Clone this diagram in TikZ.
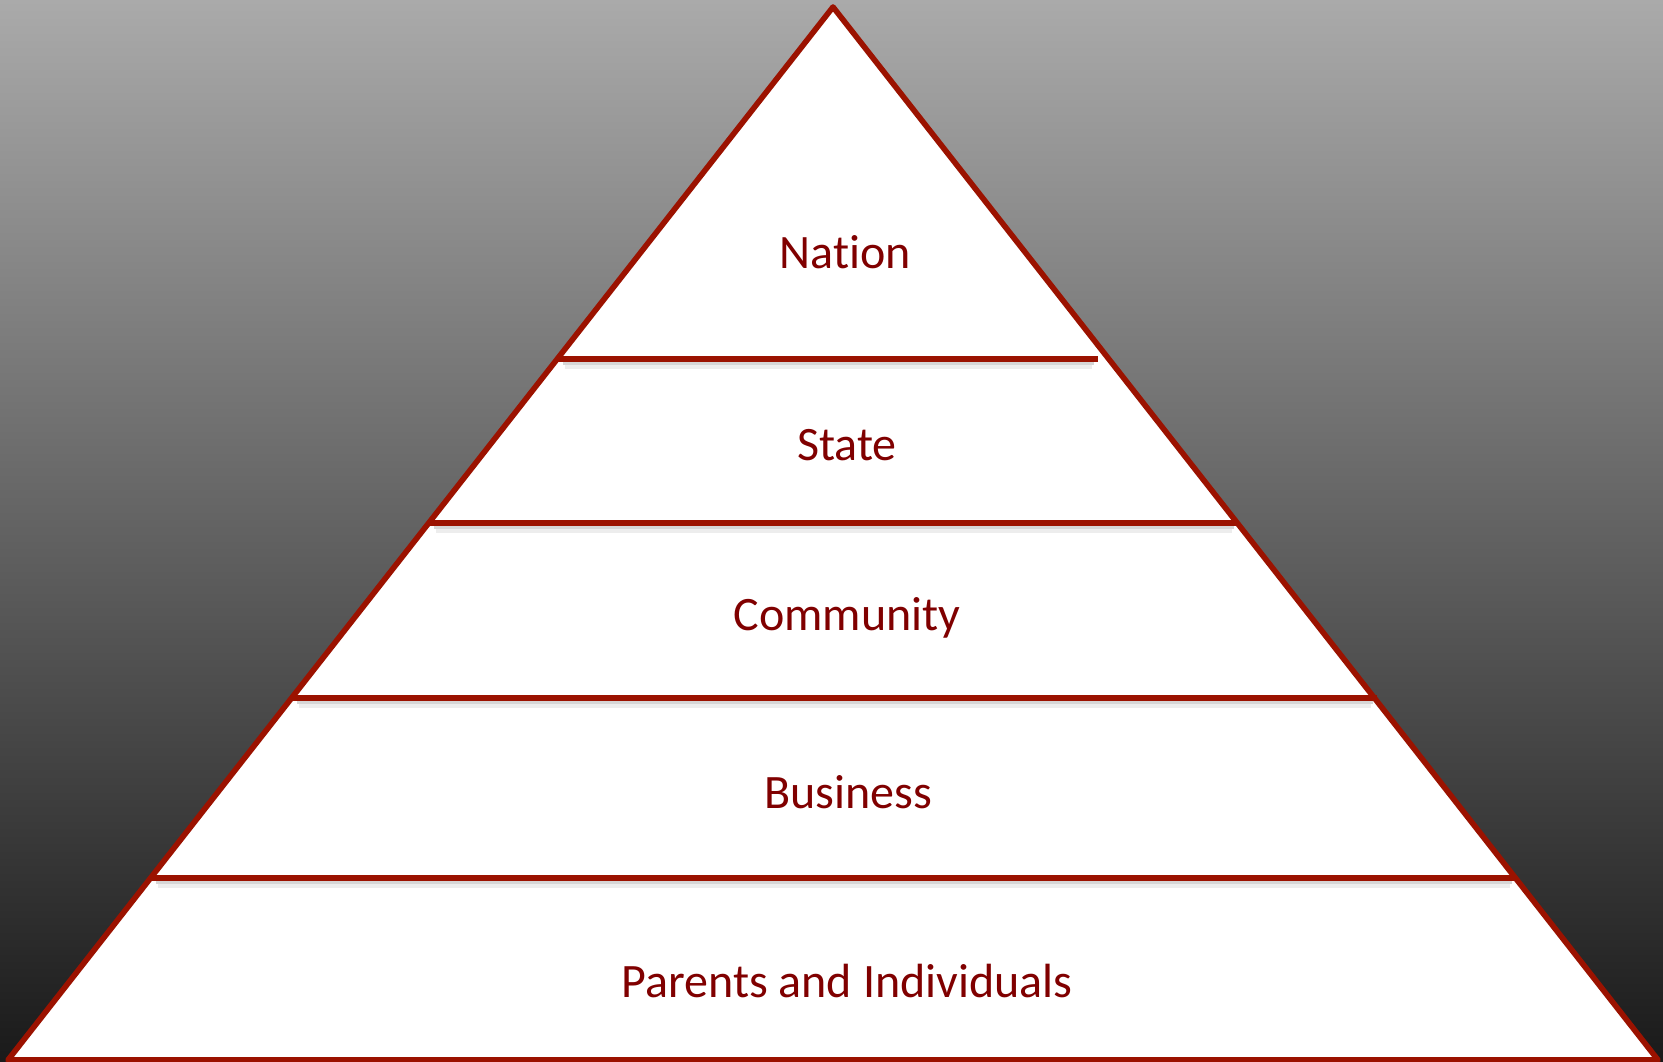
\documentclass[tikz,border=0pt]{standalone}
\usepackage{fontspec}
\setmainfont[Ligatures=NoCommon]{Carlito}
\usepackage{tikz}
\usetikzlibrary{positioning}
\definecolor{edgered}{RGB}{155,18,0}
\definecolor{labelred}{RGB}{128,0,0}
\tikzstyle{tier} = [text=labelred, font=\fontsize{24pt}{28pt}\selectfont, anchor=base, inner sep=0pt]
\tikzstyle{border} = [draw=edgered, line width=2.8pt, line join=round]
\tikzstyle{divider} = [draw=edgered, line width=2.6pt]
\tikzstyle{shadow} = [draw=black, line width=2pt]

\begin{document}
\begin{tikzpicture}[x=0.5pt, y=-0.5pt]
        % Background
        \useasboundingbox (0,0) rectangle (1663,1061);
        \shade [top color={rgb,255:red,170;green,170;blue,170}, bottom color={rgb,255:red,26;green,26;blue,26}] (0,0) rectangle (1663,1061);
        % Pyramid
        \coordinate (apex) at (833,7);
        \coordinate (baseleft) at (8,1060);
        \coordinate (baseright) at (1658,1060);
        \path [border, fill=white] (apex) -- (baseleft) -- (baseright) -- cycle;
        % Draw dividers
        \foreach \y/\xa/\xb in {359/557/1098, 523/428/1238, 698/291/1377, 878/150/1516}{
            \path [shadow, opacity=0.16] (\xa+6,\y+4) -- (\xb-4,\y+4);
            \path [shadow, opacity=0.07] (\xa+8,\y+8) -- (\xb-6,\y+8);
            \path [divider] (\xa,\y) -- (\xb,\y);
        }
        % Place nodes
        \node [tier] (nation) at (845,268) {Nation};
        \node [tier] (state) at (847,460) {State};
        \node [tier] (community) at (847,630) {Community};
        \node [tier] (business) at (848,808) {Business};
        \node [tier] (parents) at (847,997) {Parents and Individuals};
\end{tikzpicture}
\end{document}
